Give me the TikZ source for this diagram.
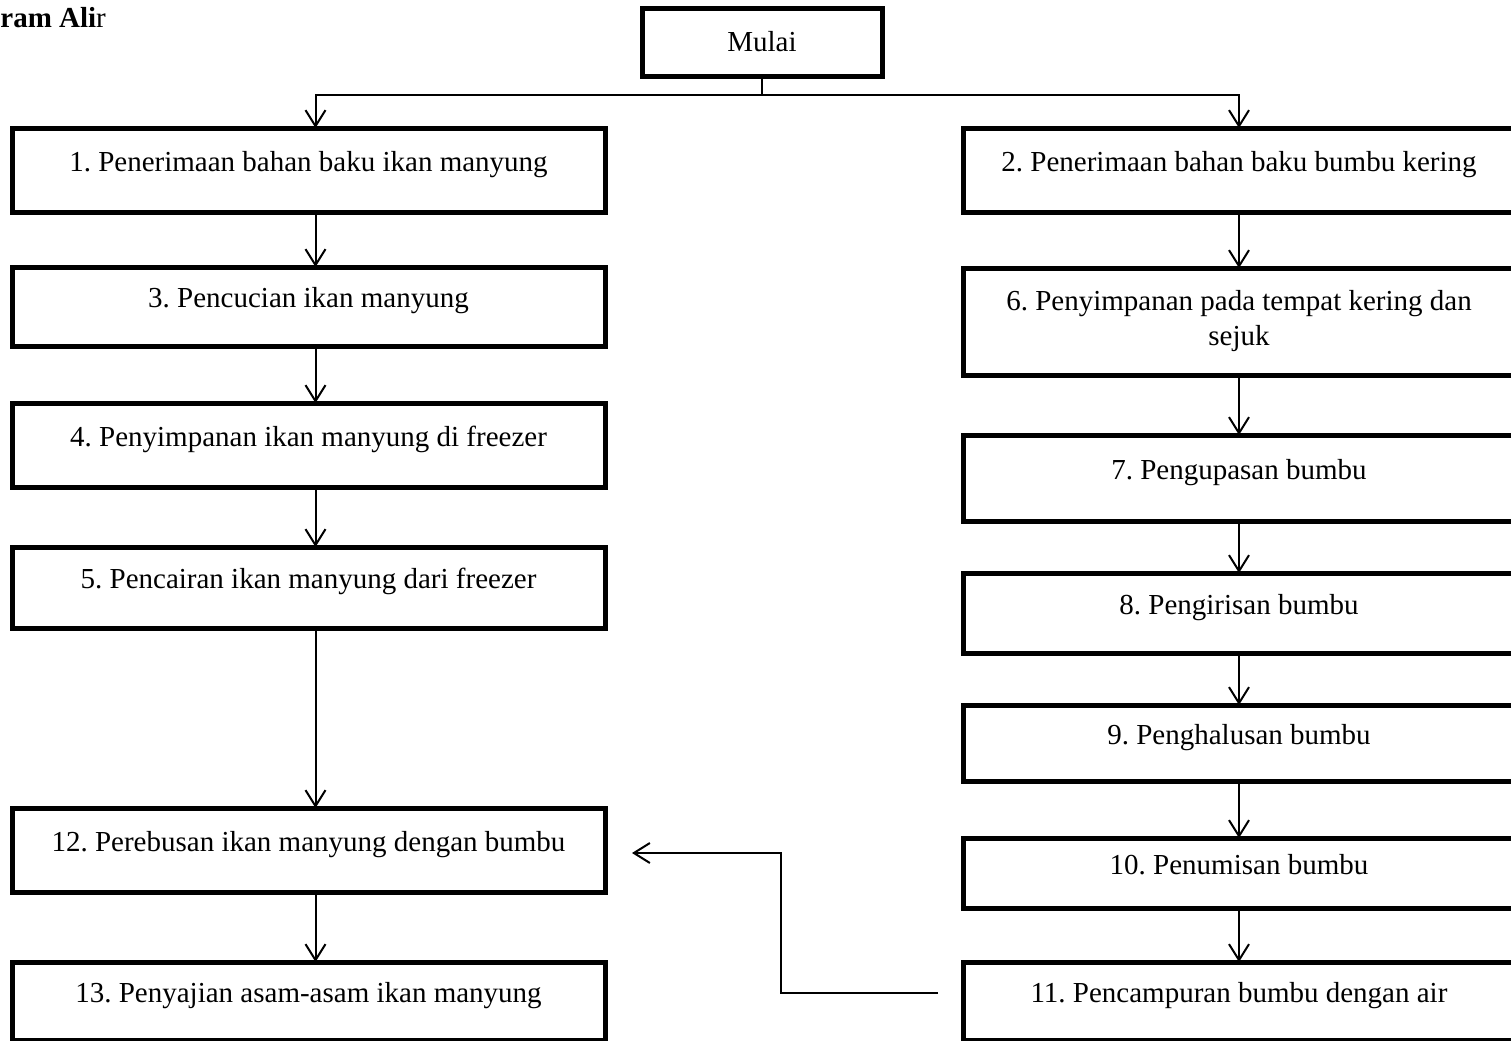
\documentclass[tikz,border=0pt]{standalone}
\usepackage{fontspec}
\setmainfont{Liberation Serif}
\usetikzlibrary{arrows.meta,positioning}

\begin{document}
\frenchspacing
\begin{tikzpicture}[
    node distance=28pt,
    font=\fontsize{14.5}{17.5}\selectfont,
    box/.style={rectangle, draw, line width=2.5pt, outer sep=0pt, minimum width=296.5pt, minimum height=42pt, align=center},
    proc/.style={box, text height=10pt, text depth=9pt},
    procr/.style={proc, minimum width=276pt},
    arr/.style={line width=1pt, -{Straight Barb[length=8pt, width=10pt]}}
]
\useasboundingbox (0,0) rectangle (755.5pt,-520pt);

\node[anchor=base west, inner sep=0pt] (title) at (0,-13.5pt) {\textbf{ram Ali}r};
\node[box, minimum width=120pt, minimum height=34pt] (mulai) at (381pt,-21pt) {Mulai};

% kolom kiri: ikan
\node[proc] (p1) at (154.25pt,-85pt) {1. Penerimaan bahan baku ikan manyung};
\node[proc, minimum height=39.5pt, below=27.5pt of p1] (p3) {3. Pencucian ikan manyung};
\node[proc, below=28.5pt of p3] (p4) {4. Penyimpanan ikan manyung di freezer};
\node[proc, minimum height=40.5pt, below=30pt of p4] (p5) {5. Pencairan ikan manyung dari freezer};
\node[proc, below=90pt of p5] (p12) {12. Perebusan ikan manyung dengan bumbu};
\node[proc, minimum height=39pt, below=35pt of p12] (p13) {13. Penyajian asam-asam ikan manyung};

% kolom kanan: bumbu
\node[procr] (p2) at (619.5pt,-85pt) {2. Penerimaan bahan baku bumbu kering};
\node[box, minimum width=276pt, minimum height=53.5pt, below=28pt of p2] (p6) {6. Penyimpanan pada tempat kering dan\\sejuk};
\node[procr, minimum height=43pt, below=30pt of p6] (p7) {7. Pengupasan bumbu};
\node[procr, minimum height=40pt, below=26pt of p7] (p8) {8. Pengirisan bumbu};
\node[procr, minimum height=38pt, below=26pt of p8] (p9) {9. Penghalusan bumbu};
\node[procr, minimum height=35pt, below=28.5pt of p9] (p10) {10. Penumisan bumbu};
\node[procr, minimum height=39pt, below=27pt of p10] (p11) {11. Pencampuran bumbu dengan air};

\draw[line width=1pt] (mulai.south) -- ++(0,-9.5pt) coordinate (split);
\draw[arr] (split) -| ([xshift=3.5pt]p1.north);
\draw[arr] (split) -| (p2.north);

\draw[arr] ([xshift=3.5pt]p1.south) -- ([xshift=3.5pt]p3.north);
\draw[arr] ([xshift=3.5pt]p3.south) -- ([xshift=3.5pt]p4.north);
\draw[arr] ([xshift=3.5pt]p4.south) -- ([xshift=3.5pt]p5.north);
\draw[arr] ([xshift=3.5pt]p5.south) -- ([xshift=3.5pt]p12.north);
\draw[arr] ([xshift=3.5pt]p12.south) -- ([xshift=3.5pt]p13.north);

\draw[arr] (p2) -- (p6);
\draw[arr] (p6) -- (p7);
\draw[arr] (p7) -- (p8);
\draw[arr] (p8) -- (p9);
\draw[arr] (p9) -- (p10);
\draw[arr] (p10) -- (p11);

\coordinate (from11) at ([xshift=-12.5pt, yshift=4pt]p11.west);
\coordinate (to12) at ([xshift=13.5pt, yshift=-1.5pt]p12.east);
\draw[arr] (from11) -- ++(-78.5pt,0) |- (to12);

\end{tikzpicture}
\end{document}
